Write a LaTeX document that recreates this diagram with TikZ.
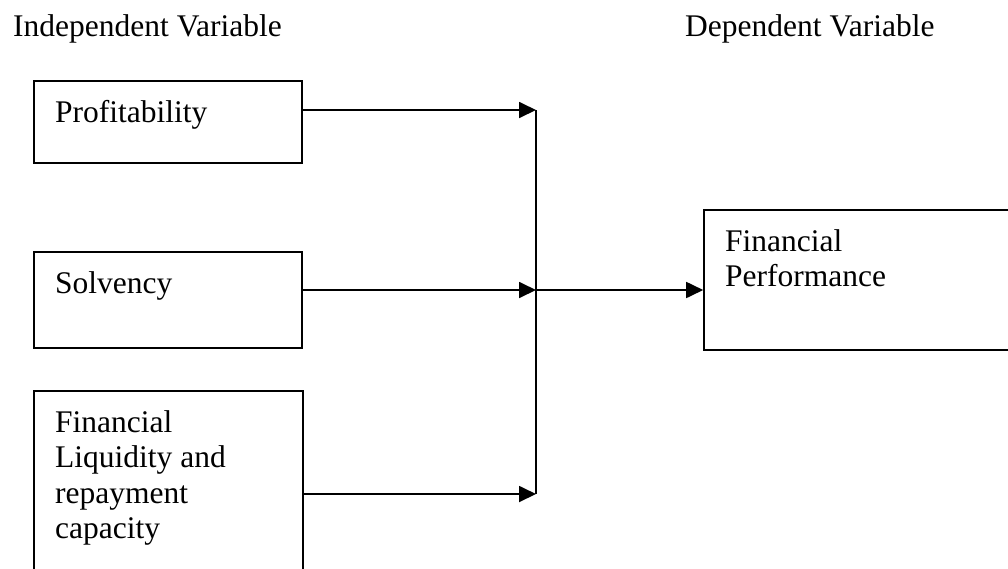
\documentclass[tikz,border=0pt]{standalone}
\usepackage{fontspec}
\setmainfont{Liberation Serif}
\usetikzlibrary{arrows.meta}
\usetikzlibrary{positioning}
\tikzset{varbox/.style = {draw, line width = 1.6pt, inner sep = 0}}
\tikzset{boxtext/.style = {inner sep = 0, align = left, font = \fontsize{31.5}{35.5}\selectfont}}
\tikzset{flow/.style = {line width = 1.8pt, -{Triangle[length = 17pt, width = 16pt]}}}

\begin{document}
\begin{tikzpicture}[x = 1pt, y = -1pt]
    \clip (0, 0) rectangle (1008, 568);
    \node [boxtext, anchor = base west] (indep) at (13, 36) {Independent Variable};
    \node [boxtext, anchor = base west] (dep) at (685, 36) {Dependent Variable};
    \node [varbox, minimum width = 268pt, minimum height = 82pt] (profit) at (168, 122) {};
    \node [varbox, minimum width = 268pt, minimum height = 96pt] (solv) at (168, 300) {};
    \node [varbox, minimum width = 269pt, minimum height = 229pt] (liquid) at (168.5, 505.5) {};
    \node [varbox, minimum width = 336pt, minimum height = 140pt] (perf) at (872, 280) {};
    \node [boxtext, anchor = base west] (profit text) at (55, 122) {Profitability};
    \node [boxtext, anchor = base west] (solv text) at (55, 293) {Solvency};
    \node [boxtext, anchor = north west] (liquid text) at (55, 410) {Financial\\Liquidity and\\repayment\\capacity};
    \node [boxtext, anchor = north west] (perf text) at (725, 229) {Financial\\Performance};
    \coordinate (jtop) at (536, 110);
    \coordinate (jmid) at (536, 290);
    \coordinate (jbot) at (536, 494);
    \draw [flow] (profit.east |- jtop) -- (jtop);
    \draw [flow] (solv.east |- jmid) -- (jmid);
    \draw [flow] (liquid.east |- jbot) -- (jbot);
    \draw [line width = 1.8pt] (jtop) -- (jbot);
    \draw [flow] (jmid) -- (perf.west |- jmid);
  \end{tikzpicture}
\end{document}
